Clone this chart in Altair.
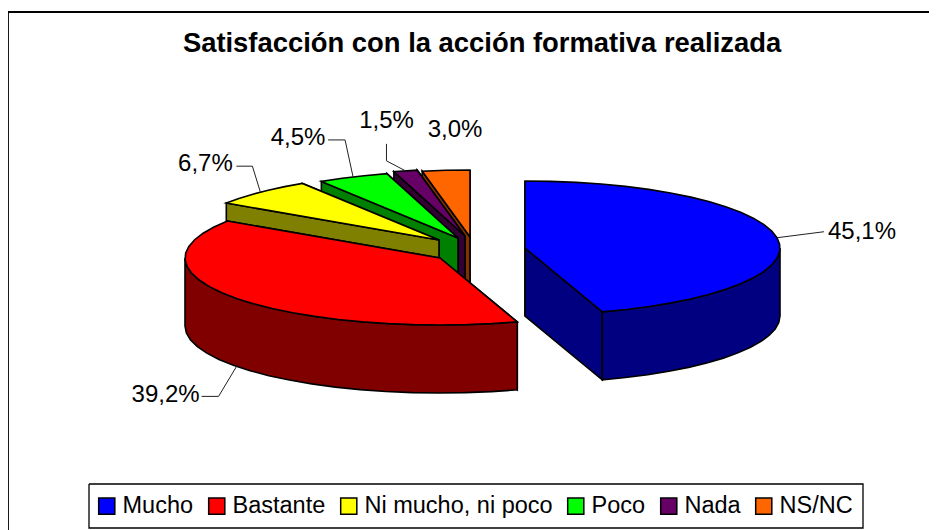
import math
import altair as alt

# ---- chart values ----
categories = ["Mucho", "Bastante", "Ni mucho, ni poco", "Poco", "Nada", "NS/NC"]
values = [45.1, 39.2, 6.7, 4.5, 1.5, 3.0]
top_colors = ["#0000FF", "#FF0000", "#FFFF00", "#00FF00", "#660066", "#FF6600"]
side_colors = ["#000080", "#800000", "#808000", "#008000", "#330033", "#803300"]
title_text = "Satisfacción con la acción formativa realizada"

# ---- pie geometry (page pixels) ----
RX, RY, DEPTH = 255, 67, 68
centres = [(525, 248), (440, 258), (439, 240), (458, 238), (465, 236), (470, 237)]
# label centre and optional elbow, relative to the leader's anchor on the slice
label_offsets = [(85, -6), (-71, 29), (-55, -28), (-55, -39), (-19, -50), (9, -40)]
elbows = [[(47, -6)], [(-18, 30), (-35, 30)], [(-8, -26), (-24, -26)], [(-8, -37), (-25, -37)], [(-19, -10), (-19, -27)], None]
bottom_anchor = [False, True, False, False, False, False]


def pt(c, deg, dy=0):
    r = math.radians(deg)
    return [c[0] + RX * math.sin(r), c[1] - RY * math.cos(r) + dy]


def arc(c, a0, a1, dy=0, step=6):
    n = max(1, int(math.ceil((a1 - a0) / step)))
    return [pt(c, a0 + (a1 - a0) * i / n, dy) for i in range(n + 1)]


def poly(points, part):
    ring = [list(p) for p in points] + [list(points[0])]
    return {"type": "Feature", "properties": {"part": part},
            "geometry": {"type": "Polygon", "coordinates": [ring]}}


def line(points):
    return {"type": "Feature", "properties": {},
            "geometry": {"type": "LineString", "coordinates": [list(p) for p in points]}}


starts = []
acc = 0.0
for v in values:
    starts.append(acc)
    acc += v * 3.6

faces = []
leaders = []
labels = []
for i in reversed(range(len(values))):
    c, a0, a1 = centres[i], starts[i], starts[i] + values[i] * 3.6
    name, side = categories[i], categories[i] + " (lado)"
    for a in (a1, a0):
        p = pt(c, a)
        faces.append(poly([list(c), p, [p[0], p[1] + DEPTH], [c[0], c[1] + DEPTH]], side))
    lo, hi = max(a0, 90), min(a1, 270)
    if hi > lo:
        faces.append(poly(arc(c, lo, hi) + arc(c, lo, hi, DEPTH)[::-1], side))
    faces.append(poly([list(c)] + arc(c, a0, a1), name))
    anchor = pt(c, (a0 + a1) / 2, DEPTH if bottom_anchor[i] else 0)
    if elbows[i] is not None:
        leaders.append(line([anchor] + [[anchor[0] + dx, anchor[1] + dy] for dx, dy in elbows[i]]))
    labels.append({"lon": anchor[0] + label_offsets[i][0], "lat": anchor[1] + label_offsets[i][1],
                   "text": f"{values[i]:.1f}%".replace(".", ",")})

PROJ = dict(type="identity", scale=1, translate=[-8, -8])
FONT = "Liberation Sans"
JSON = {"type": "json"}

frame = alt.Chart(alt.InlineData(values=[line([[8, 530], [8, 12], [937, 12]])], format=JSON)).mark_geoshape(
    filled=False, stroke="black", strokeWidth=1.8).project(**PROJ)

legend_box = alt.Chart(alt.InlineData(
    values=[line([[89, 484], [863, 484], [863, 528], [89, 528], [89, 484]])], format=JSON
)).mark_geoshape(filled=False, stroke="black", strokeWidth=1.3).project(**PROJ)

pie = alt.Chart(alt.InlineData(values=faces, format=JSON)).mark_geoshape(
    stroke="black", strokeWidth=1.6, strokeJoin="miter", opacity=1
).encode(
    fill=alt.Fill(
        "properties.part:N",
        scale=alt.Scale(domain=categories + [c + " (lado)" for c in categories], range=top_colors + side_colors),
        legend=alt.Legend(
            values=categories, title=None, orient="none", legendX=87, legendY=486,
            direction="horizontal", columns=6, symbolType="square", symbolSize=260,
            symbolStrokeColor="black", symbolStrokeWidth=1.5, symbolOpacity=1,
            labelFont=FONT, labelFontSize=23.5, labelColor="black", labelLimit=300,
            labelOffset=4, columnPadding=11, padding=0, gridAlign="each",
        ),
    )
).project(**PROJ)

lead = alt.Chart(alt.InlineData(values=leaders, format=JSON)).mark_geoshape(
    filled=False, stroke="#222222", strokeWidth=1).project(**PROJ)

text = alt.Chart(alt.Data(values=labels)).mark_text(
    font=FONT, fontSize=24, color="black", align="center", baseline="middle"
).encode(longitude="lon:Q", latitude="lat:Q", text="text:N").project(**PROJ)

title = alt.Chart(alt.Data(values=[{"lon": 482, "lat": 44, "text": title_text}])).mark_text(
    font=FONT, fontSize=27.4, fontWeight="bold", color="black", align="center", baseline="middle"
).encode(longitude="lon:Q", latitude="lat:Q", text="text:N").project(**PROJ)

chart = alt.layer(frame, legend_box, pie, lead, text, title).properties(
    width=921, height=522, padding=0, background="white"
).configure_view(stroke=None)

chart.save("out.html", embed_options={"renderer": "svg", "actions": False})
